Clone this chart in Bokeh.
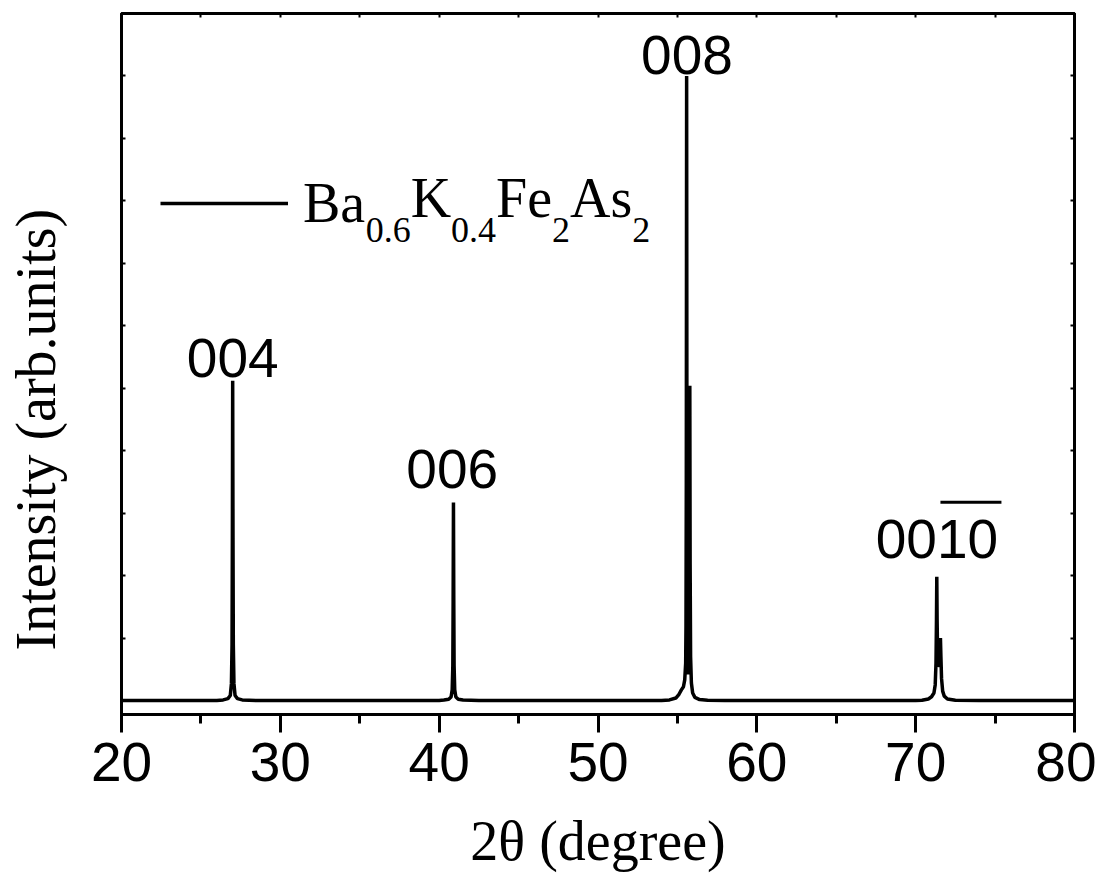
from bokeh.plotting import figure
from bokeh.models import (Range1d, LinearAxis, FixedTicker, Label, Legend,
                          LegendItem, BoxAnnotation, ColumnDataSource, Title)
from bokeh.core.properties import value
from bokeh.embed import file_html
from bokeh.resources import INLINE

# ---------------- data ----------------
two_theta = [
    20.0, 26.0,
    26.4, 26.7, 26.85, 26.92, 26.96, 26.98, 27.0, 27.02, 27.04, 27.08, 27.15, 27.3, 27.6,
    28.5, 40.0,
    40.3, 40.6, 40.75, 40.82, 40.86, 40.88, 40.9, 40.92, 40.94, 40.98, 41.05, 41.2, 41.5,
    42.5, 54.0,
    54.5, 54.9, 55.1, 55.25, 55.38, 55.46, 55.52, 55.54, 55.56, 55.58, 55.60, 55.62,
    55.66, 55.70, 55.74, 55.76, 55.78, 55.80, 55.83, 55.88, 55.96, 56.1, 56.4, 56.9,
    58.0, 70.0,
    70.4, 70.8, 71.0, 71.15, 71.23, 71.28, 71.31, 71.33, 71.35, 71.38, 71.43, 71.48,
    71.53, 71.56, 71.59, 71.63, 71.7, 71.8, 72.0, 72.5,
    74.0, 80.0,
]
intensity = [
    0, 0,
    10, 30, 80, 270, 900, 2600, 5120, 2600, 900, 270, 80, 30, 10,
    0, 0,
    8, 20, 55, 170, 560, 1600, 3170, 1600, 560, 170, 55, 20, 8,
    0, 0,
    10, 40, 100, 170, 220, 330, 600, 1200, 3500, 10000, 3500, 1300,
    550, 420, 900, 2400, 5040, 2200, 700, 280, 120, 50, 15, 5,
    0, 0,
    5, 25, 60, 120, 250, 600, 1300, 1980, 1300, 750, 560, 560,
    750, 1000, 700, 350, 150, 70, 25, 5,
    0, 0,
]

peak_labels = ["004", "006", "008", "0010"]
peak_label_x = [27.0, 40.82, 55.6, 71.34]
peak_label_y = [5488, 3712, 10336, 2592]

x_major = [20, 30, 40, 50, 60, 70, 80]
x_minor = [25, 35, 45, 55, 65, 75]
x_all = [20, 25, 30, 35, 40, 45, 50, 55, 60, 65, 70, 75, 80]
y_ticks = [0, 1000, 2000, 3000, 4000, 5000, 6000, 7000, 8000, 9000, 10000, 11000]

legend_main = "Ba"
formula_parts = ["0.6", "K", "0.4", "Fe", "2", "As", "2"]
formula_is_sub = [True, False, True, False, True, False, True]
formula_x = [35.37, 38.21, 40.75, 43.58, 47.11, 48.24, 52.16]

# ---------------- figure ----------------
SERIF = "Liberation Serif"
SANS = "Liberation Sans"

p = figure(width=1096, height=881, output_backend="svg", toolbar_location=None,
           x_range=Range1d(20, 80), y_range=Range1d(-224, 11000),
           x_axis_location=None, y_axis_location=None,
           min_border_left=121, min_border_right=22, min_border_top=13,
           min_border_bottom=167)
p.xgrid.visible = False
p.ygrid.visible = False
p.outline_line_color = "black"
p.outline_line_width = 3
p.background_fill_color = "white"
p.border_fill_color = "white"

src = ColumnDataSource(dict(x=two_theta, y=intensity))
r = p.line("x", "y", source=src, line_width=3.5, line_color="black")

# bottom axis
xb = LinearAxis(ticker=FixedTicker(ticks=x_major, minor_ticks=x_minor))
xb.axis_line_width = 3
xb.major_tick_line_width = 3
xb.minor_tick_line_width = 3
xb.major_tick_in = 0
xb.major_tick_out = 18
xb.minor_tick_in = 0
xb.minor_tick_out = 9
xb.major_label_text_font = SANS
xb.major_label_text_font_size = "55px"
xb.major_label_text_color = "black"
xb.major_label_standoff = 10
xb.axis_label = "2θ (degree)"
xb.axis_label_text_font = SERIF
xb.axis_label_text_font_size = "56px"
xb.axis_label_text_font_style = "normal"
xb.axis_label_text_color = "black"
xb.axis_label_standoff = 26
p.add_layout(xb, "below")

def plain_axis(ax):
    ax.axis_line_width = 3
    ax.major_tick_line_width = 2
    ax.major_tick_in = 4
    ax.major_tick_out = 0
    ax.minor_tick_in = 0
    ax.minor_tick_out = 0
    ax.major_label_text_font_size = "0px"
    ax.major_label_text_alpha = 0
    ax.major_label_standoff = 0
    return ax

xt = plain_axis(LinearAxis(ticker=FixedTicker(ticks=x_all)))
p.add_layout(xt, "above")
yl = plain_axis(LinearAxis(ticker=FixedTicker(ticks=y_ticks)))
p.add_layout(yl, "left")
yr = plain_axis(LinearAxis(ticker=FixedTicker(ticks=y_ticks)))
p.add_layout(yr, "right")

# invisible spacer between the left axis and its title
spacer = LinearAxis(ticker=FixedTicker(ticks=[0]))
spacer.axis_line_color = None
spacer.major_tick_line_color = None
spacer.minor_tick_line_color = None
spacer.major_tick_in = 0
spacer.major_tick_out = 55
spacer.minor_tick_out = 0
spacer.major_label_text_font_size = "0px"
spacer.major_label_text_alpha = 0
spacer.major_label_standoff = 0
p.add_layout(spacer, "left")

# y axis title
ytitle = Title(text="Intensity (arb.units)", align="left", offset=64,
               standoff=0, text_font=SERIF, text_font_size="56px",
               text_font_style="normal", text_color="black")
p.add_layout(ytitle, "left")

# peak labels
lab_src = ColumnDataSource(dict(x=peak_label_x, y=peak_label_y, t=peak_labels))
p.text("x", "y", text="t", source=lab_src, text_font=value(SANS),
       text_font_size="55px", text_align="center", text_baseline="alphabetic",
       text_color="black")
# overline on "10" of 0010
p.add_layout(BoxAnnotation(left=71.56, right=75.40, bottom=3150, top=3200,
                           fill_color="black", fill_alpha=1, line_alpha=0))

# legend
legend = Legend(items=[LegendItem(label=legend_main, renderers=[r])],
                location=(39, 479), padding=0, margin=0, spacing=0,
                glyph_width=128, glyph_height=20, label_height=20,
                label_standoff=15, label_text_font=SERIF,
                label_text_font_size="56px", label_text_color="black",
                border_line_alpha=0, background_fill_alpha=0)
p.add_layout(legend)

for txt, sub, xx in zip(formula_parts, formula_is_sub, formula_x):
    p.add_layout(Label(x=xx, y=7536 if sub else 8048, text=txt,
                       text_align="left", text_baseline="alphabetic",
                       text_font=SERIF,
                       text_font_size="36px" if sub else "56px",
                       text_color="black"))

open("out.html", "w").write(file_html(p, INLINE))
